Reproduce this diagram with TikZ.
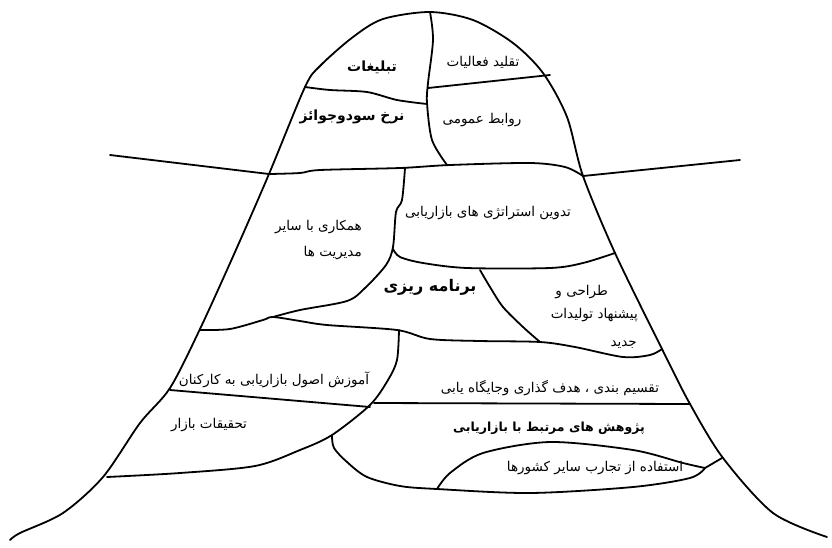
\documentclass[tikz,border=0pt]{standalone}
\usepackage{fontspec}
\newfontfamily\farsi[Script=Arabic]{DejaVu Sans}
\TeXXeTstate=1
\newcommand\fa[1]{\beginR #1\endR}
\tikzset{
  edge/.style={line width=1.8pt,line join=round,line cap=round},
  lbl/.style={inner sep=0pt,font=\farsi\fontsize{13.5}{15}\selectfont},
  lblwide/.style={inner sep=0pt,font=\farsi\bfseries\fontsize{14}{16}\selectfont},
  lblbig/.style={inner sep=0pt,font=\farsi\bfseries\fontsize{16}{18}\selectfont},
  lblbold/.style={inner sep=0pt,font=\farsi\bfseries\fontsize{12.5}{14}\selectfont}
}

\begin{document}
\begin{tikzpicture}[x=1pt,y=-1pt]
  \useasboundingbox (0,0) rectangle (832,547);
  \coordinate (top) at (430,12);
  \coordinate (wl) at (269,174);
  \coordinate (wr) at (583,176);

  \draw[edge] plot[smooth] coordinates {(10,540) (20,533) (63,513) (103,477) (140,423)
    (170,388) (200,329) (235,252) (wl) (305,87) (320,66) (353,37) (383,19) (top)
    (473,20) (513,43) (543,73) (567,117) (wr) (615,253) (662,349) (690,404)
    (723,458) (773,513) (827,537)};

  \draw[edge] (110,155) -- (wl);
  \draw[edge] (wr) -- (740,160);
  \draw[edge] plot[smooth] coordinates {(wl) (300,173) (320,170) (400,168) (450,165)
    (530,163) (565,167) (wr)};

  \draw[edge] plot[smooth] coordinates {(top) (433,40) (428,83) (427,103) (432,140) (447,165)};
  \draw[edge] plot[smooth] coordinates {(305,87) (330,90) (367,92) (397,100) (427,104)};
  \draw[edge] (428,88) -- (550,75);

  \draw[edge] plot[smooth] coordinates {(405,168) (402,200) (396,212) (393,247) (386,265)
    (365,288) (347,301) (300,310) (273,317)};
  \draw[edge] plot[smooth] coordinates {(200,330) (230,329) (263,320) (273,317) (300,321)
    (327,325) (397,330) (430,339) (480,341) (540,342) (575,347) (623,357) (650,355) (662,349)};
  \draw[edge] plot[smooth] coordinates {(393,249) (400,257) (423,263) (467,268) (550,268)
    (583,263) (615,253)};
  \draw[edge] plot[smooth] coordinates {(480,270) (490,287) (503,307) (523,327) (540,342)};

  \draw[edge] plot[smooth] coordinates {(399,330) (397,360) (388,380) (370,405) (332,435)
    (300,450) (255,466) (180,473) (107,477)};
  \draw[edge] (170,390) -- (370,407);
  \draw[edge] (374,403) -- (690,404);
  \draw[edge] plot[smooth] coordinates {(332,436) (334,448) (347,462) (367,477) (400,486)
    (437,489) (530,493) (633,487) (690,478) (705,468)};
  \draw[edge] (705,468) -- (722,458);
  \draw[edge] plot[smooth] coordinates {(437,489) (450,473) (483,453) (550,442) (633,450)
    (683,463) (705,468)};

  \node[lblwide] (tabligh) at (372,67) {\fa{تبلیغات}};
  \node[lbl] (taghlid) at (483,62) {\fa{تقلید فعالیات}};
  \node[lblwide] (nerkh) at (352,117) {\fa{نرخ سودوجوائز}};
  \node[lbl] (ravabet) at (482,120) {\fa{روابط عمومی}};
  \node[lbl] (tadvin) at (488,213) {\fa{تدوین استراتژی های بازاریابی}};
  \node[lbl,anchor=east] (hamkari) at (362,227) {\fa{همکاری با سایر}};
  \node[lbl,anchor=east] (modiriat) at (362,253) {\fa{مدیریت ها}};
  \node[lblbig] (barname) at (430,287) {\fa{برنامه ریزی}};
  \node[lbl,anchor=east] (tarahi) at (608,292) {\fa{طراحی و}};
  \node[lbl,anchor=east] (pishnahad) at (638,315) {\fa{پیشنهاد تولیدات}};
  \node[lbl,anchor=east] (jadid) at (637,345) {\fa{جدید}};
  \node[lbl] (amoozesh) at (274,380) {\fa{آموزش اصول بازاریابی به کارکنان}};
  \node[lbl] (taghsim) at (550,388) {\fa{تقسیم بندی ، هدف گذاری وجایگاه یابی}};
  \node[lbl] (tahghighat) at (209,425) {\fa{تحقیقات بازار}};
  \node[lblbold] (pajouhesh) at (549,428) {\fa{پژوهش های مرتبط با بازاریابی}};
  \node[lbl] (estefade) at (595,468) {\fa{استفاده از تجارب سایر کشورها}};
\end{tikzpicture}
\end{document}
